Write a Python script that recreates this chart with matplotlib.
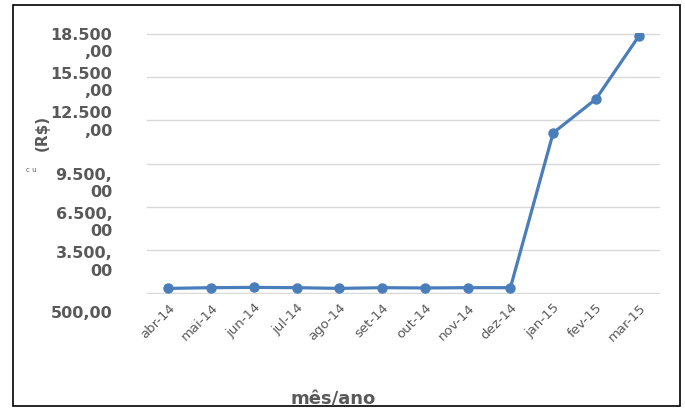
import matplotlib.pyplot as plt
import matplotlib.transforms as mtransforms
from matplotlib.patches import Rectangle

# custo mensal (R$)
meses = ['abr-14', 'mai-14', 'jun-14', 'jul-14', 'ago-14', 'set-14',
         'out-14', 'nov-14', 'dez-14', 'jan-15', 'fev-15', 'mar-15']
custo = [850, 900, 920, 900, 850, 900, 880, 900, 900, 11630, 13975, 18320]

y_ticks = [500, 3500, 6500, 9500, 12500, 15500, 18500]
y_labels = ['500,00', '3.500,\n00', '6.500,\n00', '9.500,\n00',
            '12.500\n,00', '15.500\n,00', '18.500\n,00']

cinza = '#595959'
azul = '#4a7ebb'

fig = plt.figure(figsize=(6.85, 4.08), dpi=100)
ax = fig.add_axes([0.2146, 0.279, 0.749, 0.640])

x = range(len(meses))
ax.plot(x, custo, color=azul, linewidth=2.3, marker='o', markersize=6.5, zorder=3)

ax.set_xlim(-0.5, len(meses) - 0.5)
ax.set_ylim(450, 18550)
ax.set_yticks(y_ticks)
ax.set_yticklabels(y_labels, fontsize=11.5, fontweight='bold', color=cinza,
                   va='top', ha='right', linespacing=1.2)
ax.set_xticks(list(x))
ax.set_xticklabels(meses, rotation=45, ha='right', rotation_mode='anchor',
                   fontsize=9.5, color=cinza)
ax.tick_params(axis='y', length=0, pad=25)
ax.tick_params(axis='x', length=0, pad=5)

# rótulos do eixo y ficam desalinhados das linhas, como no original (px)
desloc = [-20, -3, -7, -11, 7, 3, -1]
for lab, d in zip(ax.get_yticklabels(), desloc):
    shift = mtransforms.ScaledTranslation(0, (7 + d) / 100, fig.dpi_scale_trans)
    lab.set_transform(lab.get_transform() + shift)

ax.grid(axis='y', color='#d9d9d9', linewidth=1)
ax.set_axisbelow(True)
for s in ax.spines.values():
    s.set_visible(False)

fig.text(42 / 685, 1 - 133 / 408, '(R$)', rotation=90, fontsize=11,
         fontweight='bold', color=cinza, ha='center', va='center')
fig.text(31 / 685, 1 - 170 / 408, 'c u', fontsize=5, color=cinza,
         ha='center', va='center')
fig.text(333 / 685, 1 - 399 / 408, 'mês/ano', fontsize=13,
         fontweight='bold', color=cinza, ha='center', va='center')

# moldura
fig.patches.append(Rectangle((13 / 685, 2 / 408), 667 / 685, 401 / 408,
                             transform=fig.transFigure, fill=False,
                             edgecolor='black', linewidth=1.2))

fig.savefig('out.png', dpi=100)
